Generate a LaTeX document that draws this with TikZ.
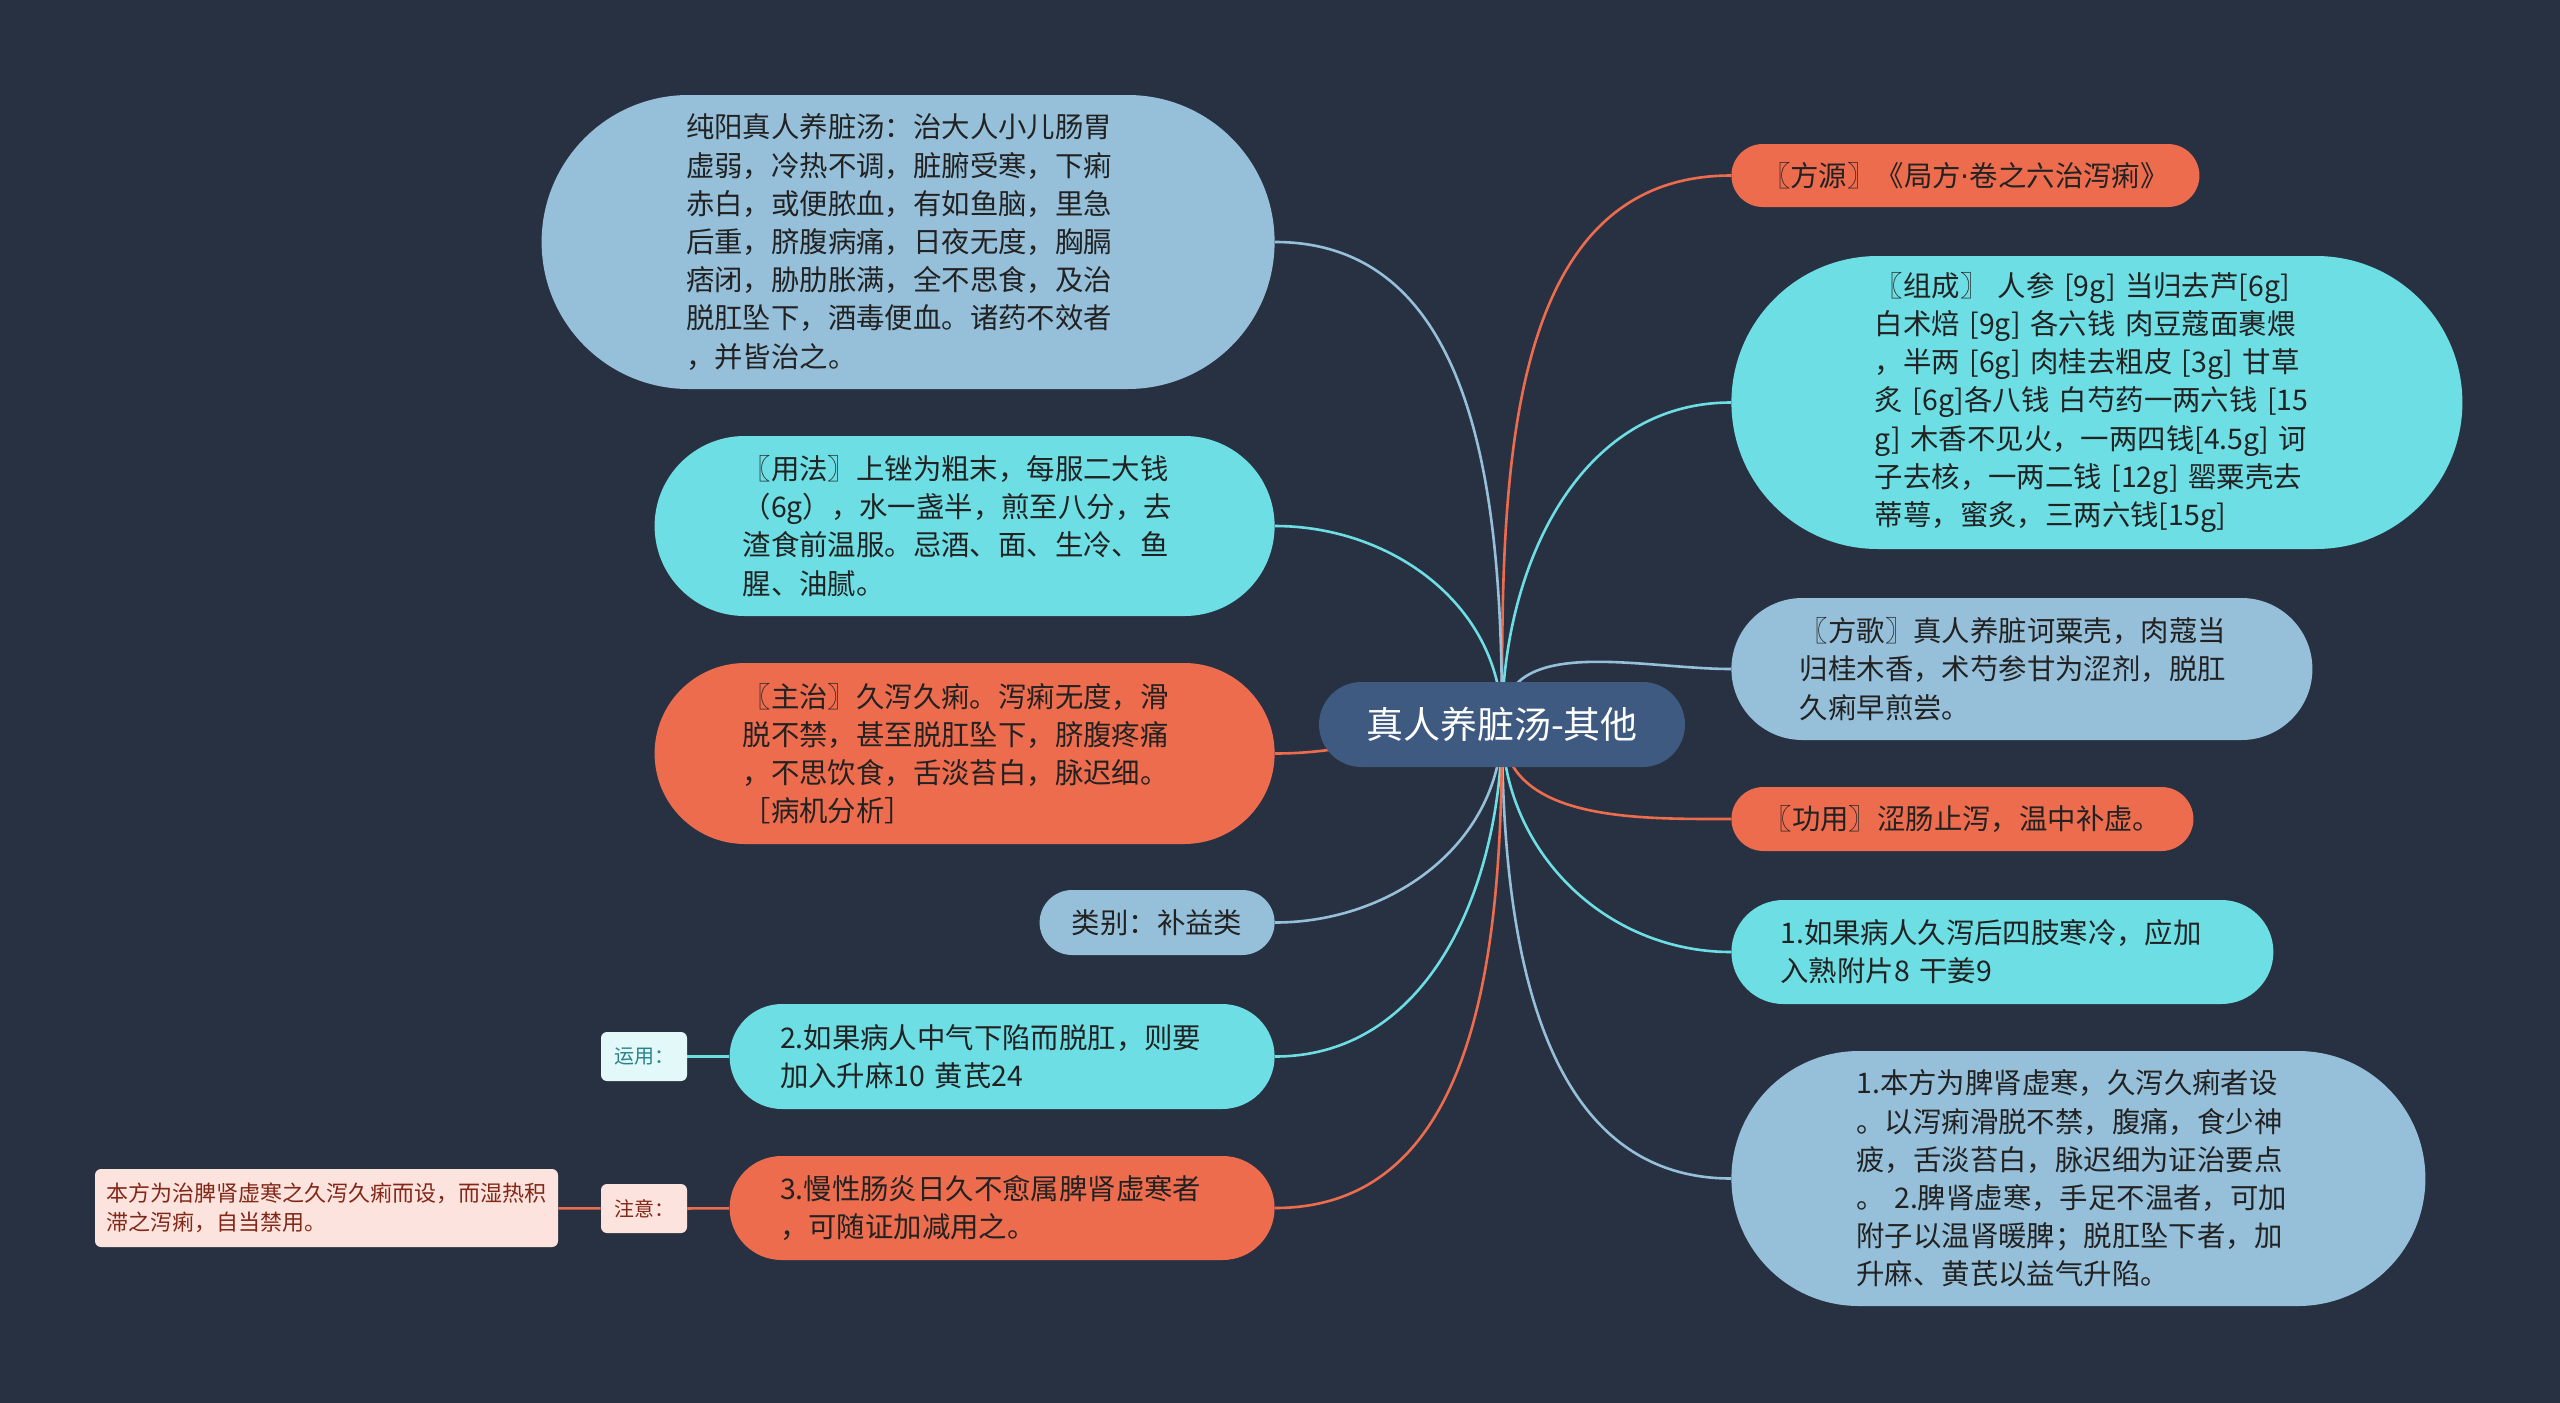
\documentclass[tikz,border=0pt]{standalone}
\usepackage{fontspec}
\setmainfont{Noto Sans CJK SC}
\newfontfamily\dotfont{DejaVu Sans}
\usetikzlibrary{backgrounds}

\definecolor{bgc}{RGB}{40,49,65}
\definecolor{rootc}{RGB}{62,90,128}
\definecolor{orc}{RGB}{238,108,78}
\definecolor{cyc}{RGB}{108,222,228}
\definecolor{lbc}{RGB}{150,192,218}
\definecolor{txc}{RGB}{34,34,34}
\definecolor{notec}{RGB}{253,227,221}
\definecolor{notetx}{RGB}{130,40,25}
\definecolor{usec}{RGB}{226,248,249}
\definecolor{usetx}{RGB}{40,130,140}

\tikzset{
  bub/.style={rectangle,inner sep=0pt,text=txc,font=\fontsize{14.2}{19.1}\selectfont},
  wrap/.style={text width=222pt,align=left},
  tag/.style={rectangle,rounded corners=3pt,inner sep=0pt,font=\fontsize{10}{12}\selectfont},
  ln/.style={line width=1.3pt}}

\begin{document}
\begin{tikzpicture}[x=0.5pt,y=-0.5pt]
  \useasboundingbox (0,0) rectangle (2560,1403);

  \node[bub,fill=rootc,text=white,minimum width=183pt,minimum height=42.5pt,rounded corners=21.25pt,font=\fontsize{18.5}{22}\selectfont] (zr) at (1502,724.5) {真人养脏汤-其他};

  \node[bub,fill=orc,minimum width=234pt,minimum height=31.5pt,rounded corners=15.75pt,anchor=west] (fy) at (1731,175.5) {〖方源〗《局方{\dotfont ·}卷之六治泻痢》};
  \node[bub,wrap,fill=cyc,minimum width=365.5pt,minimum height=146.5pt,rounded corners=73.25pt,anchor=west] (zc) at (1731,402.5) {〖组成〗 人参 [9g] 当归去芦[6g]\\
    白术焙 [9g] 各六钱 肉豆蔻面裹煨\\
    ，半两 [6g] 肉桂去粗皮 [3g] 甘草\\
    炙 [6g]各八钱 白芍药一两六钱 [15\\
    g] 木香不见火，一两四钱[4.5g] 诃\\
    子去核，一两二钱 [12g] 罂粟壳去\\
    蒂萼，蜜炙，三两六钱[15g]};
  \node[bub,wrap,fill=lbc,minimum width=290.5pt,minimum height=71pt,rounded corners=35.5pt,anchor=west] (fg) at (1731,669) {〖方歌〗真人养脏诃粟壳，肉蔻当\\
    归桂木香，术芍参甘为涩剂，脱肛\\
    久痢早煎尝。};
  \node[bub,fill=orc,minimum width=231pt,minimum height=32pt,rounded corners=16pt,anchor=west] (gy) at (1731,819) {〖功用〗涩肠止泻，温中补虚。};
  \node[bub,wrap,fill=cyc,minimum width=271pt,minimum height=52pt,rounded corners=26pt,anchor=west] (jj1) at (1731,952) {1.如果病人久泻后四肢寒冷，应加\\
    入熟附片8 干姜9};
  \node[bub,wrap,fill=lbc,minimum width=347pt,minimum height=127.5pt,rounded corners=63.75pt,anchor=west] (yd) at (1731,1178.5) {1.本方为脾肾虚寒，久泻久痢者设\\
    。以泻痢滑脱不禁，腹痛，食少神\\
    疲，舌淡苔白，脉迟细为证治要点\\
    。 2.脾肾虚寒，手足不温者，可加\\
    附子以温肾暖脾；脱肛坠下者，加\\
    升麻、黄芪以益气升陷。};

  \node[bub,wrap,fill=lbc,minimum width=366.5pt,minimum height=147pt,rounded corners=73.5pt,anchor=east] (cy) at (1275,242) {纯阳真人养脏汤：治大人小儿肠胃\\
    虚弱，冷热不调，脏腑受寒，下痢\\
    赤白，或便脓血，有如鱼脑，里急\\
    后重，脐腹病痛，日夜无度，胸膈\\
    痞闭，胁肋胀满，全不思食，及治\\
    脱肛坠下，酒毒便血。诸药不效者\\
    ，并皆治之。};
  \node[bub,wrap,fill=cyc,minimum width=310pt,minimum height=90pt,rounded corners=45pt,anchor=east] (yf) at (1275,526) {〖用法〗上锉为粗末，每服二大钱\\
    （6g），水一盏半，煎至八分，去\\
    渣食前温服。忌酒、面、生冷、鱼\\
    腥、油腻。};
  \node[bub,wrap,fill=orc,minimum width=310pt,minimum height=90.5pt,rounded corners=45.25pt,anchor=east] (zz) at (1275,753.5) {〖主治〗久泻久痢。泻痢无度，滑\\
    脱不禁，甚至脱肛坠下，脐腹疼痛\\
    ，不思饮食，舌淡苔白，脉迟细。\\
    ［病机分析］};
  \node[bub,fill=lbc,minimum width=117.5pt,minimum height=32.5pt,rounded corners=16.25pt,anchor=east] (lb) at (1275,922.5) {类别：补益类};
  \node[bub,wrap,fill=cyc,minimum width=272.5pt,minimum height=52.5pt,rounded corners=26.25pt,anchor=east] (jj2) at (1275,1056.5) {2.如果病人中气下陷而脱肛，则要\\
    加入升麻10 黄芪24};
  \node[bub,wrap,fill=orc,minimum width=272.5pt,minimum height=52pt,rounded corners=26pt,anchor=east] (jj3) at (1275,1208) {3.慢性肠炎日久不愈属脾肾虚寒者\\
    ，可随证加减用之。};

  \node[tag,fill=usec,text=usetx,minimum width=43pt,minimum height=24.5pt] (yy) at (644,1056.5) {运用：};
  \node[tag,fill=notec,text=notetx,minimum width=43pt,minimum height=24.5pt] (zy) at (644,1208.5) {注意：};
  \node[tag,fill=notec,text=notetx,minimum width=231.5pt,minimum height=39pt,align=left,font=\fontsize{11}{14.7}\selectfont] (jy) at (326.5,1208) {本方为治脾肾虚寒之久泻久痢而设，而湿热积\\
    滞之泻痢，自当禁用。};

  \begin{pgfonlayer}{background}
    \fill[bgc] (0,0) rectangle (2560,1403);
    \draw[ln,orc] (zr.center) to[out=90,in=180] (fy.west);
    \draw[ln,cyc] (zr.center) to[out=90,in=180] (zc.west);
    \draw[ln,lbc] (zr.center) to[out=90,in=180] (fg.west);
    \draw[ln,orc] (zr.center) to[out=-90,in=180] (gy.west);
    \draw[ln,cyc] (zr.center) to[out=-90,in=180] (jj1.west);
    \draw[ln,lbc] (zr.center) to[out=-90,in=180] (yd.west);
    \draw[ln,lbc] (zr.center) to[out=90,in=0] (cy.east);
    \draw[ln,cyc] (zr.center) to[out=90,in=0] (yf.east);
    \draw[ln,orc] (zr.center) to[out=180,in=0] (zz.east);
    \draw[ln,lbc] (zr.center) to[out=-90,in=0] (lb.east);
    \draw[ln,cyc] (zr.center) to[out=-90,in=0] (jj2.east);
    \draw[ln,orc] (zr.center) to[out=-90,in=0] (jj3.east);
    \draw[ln,cyc] (jj2) -- (yy);
    \draw[ln,orc] (jj3) -- (zy);
    \draw[ln,orc] (zy) -- (jy);
  \end{pgfonlayer}
\end{tikzpicture}
\end{document}
